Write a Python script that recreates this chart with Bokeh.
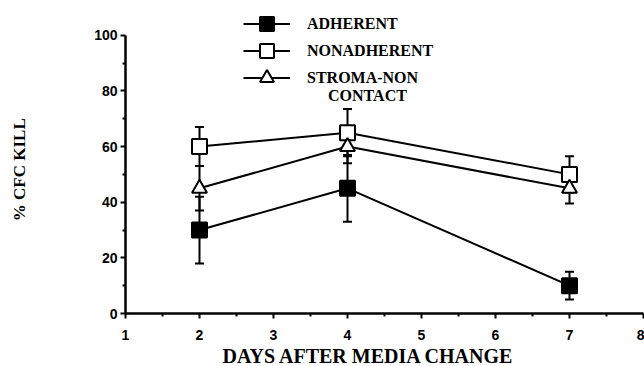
from bokeh.plotting import figure
from bokeh.models import (ColumnDataSource, Whisker, TeeHead, FixedTicker,
                          Legend, LegendItem, Label, Title)
from bokeh.embed import file_html
from bokeh.resources import INLINE

days = [2, 4, 7]
adherent = [30, 45, 10]
adherent_err = [12, 12, 5]
nonadherent = [60, 65, 50]
nonadherent_err = [7, 8.5, 6.5]
stroma = [45, 60, 45]
stroma_err = [8, 6, 5.5]

x_ticks = [1, 2, 3, 4, 5, 6, 7, 8]
x_minor = [1.5, 2.5, 3.5, 4.5, 5.5, 6.5, 7.5]
y_ticks = [0, 20, 40, 60, 80, 100]
y_minor = [10, 30, 50, 70, 90]

series_names = ["ADHERENT", "NONADHERENT", "STROMA-NON"]
series_extra = "CONTACT"
x_title = "DAYS AFTER MEDIA CHANGE"
y_title = "% CFC KILL"

SERIF = "Liberation Serif"
SANS = "Liberation Sans"

p = figure(width=644, height=366, x_range=(1, 8), y_range=(0, 112.5),
           output_backend="svg", toolbar_location=None,
           min_border_left=125, min_border_right=1,
           min_border_top=0, min_border_bottom=52)
p.outline_line_color = None
p.xgrid.visible = False
p.ygrid.visible = False
p.background_fill_color = "white"
p.border_fill_color = "white"

for ax in (p.xaxis[0], p.yaxis[0]):
    ax.axis_line_width = 2.5
    ax.axis_line_color = "black"
    ax.major_tick_line_width = 2
    ax.minor_tick_line_width = 2
    ax.major_tick_in = 0
    ax.minor_tick_in = 0
    ax.major_tick_out = 5
    ax.minor_tick_out = 3
    ax.major_label_text_font = SANS
    ax.major_label_text_font_style = "bold"
    ax.major_label_text_font_size = "14px"
    ax.major_label_text_color = "black"

p.xaxis[0].ticker = FixedTicker(ticks=x_ticks, minor_ticks=x_minor)
p.yaxis[0].ticker = FixedTicker(ticks=y_ticks, minor_ticks=y_minor)
p.yaxis[0].bounds = (0, 100)
p.xaxis[0].major_label_standoff = 11
p.yaxis[0].major_label_standoff = 3

# trailing non-breaking spaces nudge the rotated title toward the axis origin
p.yaxis[0].axis_label = y_title + "\u00a0" * 6
p.yaxis[0].axis_label_standoff = 62
p.yaxis[0].axis_label_text_font = SERIF
p.yaxis[0].axis_label_text_font_style = "bold"
p.yaxis[0].axis_label_text_font_size = "17px"
p.yaxis[0].axis_label_text_color = "black"

def add_series(vals, errs):
    upper = [v + e for v, e in zip(vals, errs)]
    lower = [v - e for v, e in zip(vals, errs)]
    src = ColumnDataSource(dict(x=days, y=vals, upper=upper, lower=lower))
    w = Whisker(base="x", upper="upper", lower="lower", source=src,
                line_width=2, line_color="black",
                upper_head=TeeHead(size=9, line_width=2, line_color="black"),
                lower_head=TeeHead(size=9, line_width=2, line_color="black"))
    p.add_layout(w)
    ln = p.line("x", "y", source=src, line_width=2, line_color="black")
    return src, ln

src_a, ln_a = add_series(adherent, adherent_err)
src_n, ln_n = add_series(nonadherent, nonadherent_err)
src_s, ln_s = add_series(stroma, stroma_err)

mk_a = p.scatter("x", "y", source=src_a, marker="square", size=15,
                 fill_color="black", line_color="black", line_width=2)
mk_n = p.scatter("x", "y", source=src_n, marker="square", size=15,
                 fill_color="white", line_color="black", line_width=2)
mk_s = p.scatter("x", "y", source=src_s, marker="triangle", size=15,
                 fill_color="white", line_color="black", line_width=2)

renderer_pairs = [(ln_a, mk_a), (ln_n, mk_n), (ln_s, mk_s)]
legend_y = [272, 245, 218]
for name, rs, ly in zip(series_names, renderer_pairs, legend_y):
    lg = Legend(items=[LegendItem(label=name, renderers=list(rs))],
                location=(118, ly), glyph_width=47, glyph_height=35,
                spacing=0, label_standoff=17, padding=0, margin=0,
                border_line_color=None, background_fill_alpha=0,
                label_text_font=SERIF, label_text_font_style="bold",
                label_text_font_size="16px", label_text_color="black")
    p.add_layout(lg)

p.add_layout(Label(x=4.27, y=78.5, text=series_extra, text_font=SERIF,
                   text_font_style="bold", text_font_size="16px",
                   text_align="center", text_baseline="middle",
                   text_color="black"))

p.add_layout(Title(text=x_title, align="left", offset=97, standoff=0,
                   text_font=SERIF, text_font_style="bold",
                   text_font_size="20px", text_color="black"), "below")

open("out.html", "w").write(file_html(p, INLINE))
